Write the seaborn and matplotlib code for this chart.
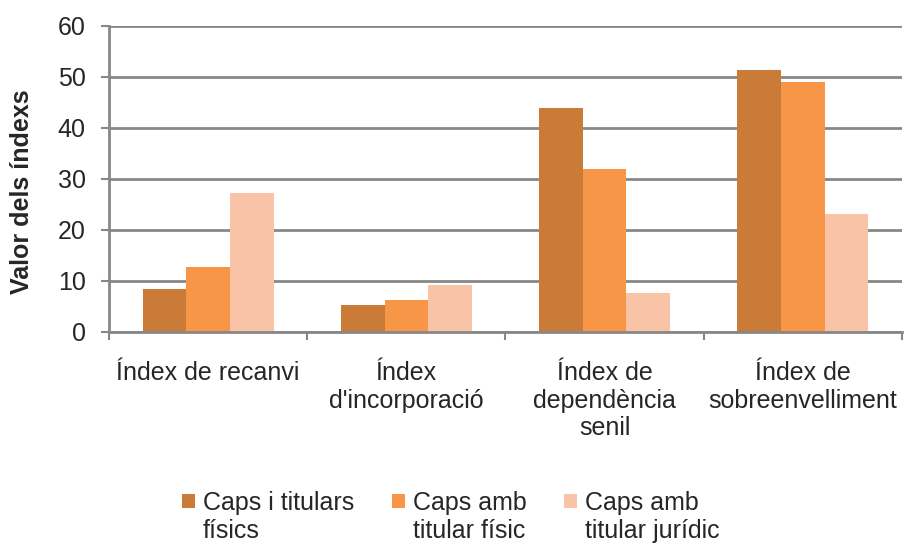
import matplotlib
matplotlib.use("Agg")
import matplotlib.pyplot as plt
import matplotlib.patches as mpatches
from matplotlib.legend_handler import HandlerPatch
import seaborn as sns
import pandas as pd

# values
categories = ["Índex de recanvi", "Índex\nd'incorporació",
              "Índex de\ndependència\nsenil", "Índex de\nsobreenvelliment"]
series = ["Caps i titulars\nfísics", "Caps amb\ntitular físic", "Caps amb\ntitular jurídic"]
caps_titulars_fisics = [8.3, 5.2, 43.9, 51.3]
caps_titular_fisic = [12.6, 6.3, 31.9, 49.0]
caps_titular_juridic = [27.2, 9.1, 7.5, 23.0]
y_ticks = [0, 10, 20, 30, 40, 50, 60]

colors = ["#CB7B38", "#F79646", "#F9C3A7"]
grid_grey = "#878787"

rows = []
for name, vals in zip(series, [caps_titulars_fisics, caps_titular_fisic, caps_titular_juridic]):
    for cat, v in zip(categories, vals):
        rows.append({"cat": cat, "serie": name, "valor": v})
df = pd.DataFrame(rows)

sns.set_style("white")
plt.rcParams['font.family'] = ['Liberation Sans', 'DejaVu Sans']

fig = plt.figure(figsize=(9.08, 5.47), dpi=100)
ax = fig.add_axes([0.120, 0.3936, 0.8734, 0.5594])

sns.barplot(data=df, x="cat", y="valor", hue="serie", order=categories,
            hue_order=series, palette=colors, width=0.66, saturation=1,
            edgecolor="none", ax=ax, legend=True)

ax.set_ylim(0, 60)
ax.set_xlim(-0.5, 3.5)
ax.set_yticks(y_ticks)
ax.yaxis.grid(True, color=grid_grey, linewidth=2)
ax.set_axisbelow(True)

for side in ["top", "right"]:
    ax.spines[side].set_visible(False)
for side in ["left", "bottom"]:
    ax.spines[side].set_color(grid_grey)
    ax.spines[side].set_linewidth(2)

ax.tick_params(axis="y", which="major", length=5.8, width=1.5, color=grid_grey,
               labelsize=18, direction="out", left=True, pad=11)
ax.tick_params(axis="x", which="major", length=0, labelsize=18, pad=21)
ax.set_xticks([-0.5, 0.5, 1.5, 2.5, 3.5], minor=True)
ax.tick_params(axis="x", which="minor", length=5.8, width=1.5, color=grid_grey,
               direction="out", bottom=True)

ax.set_xlabel("")
ax.set_ylabel("Valor dels índexs", fontsize=18, fontweight="bold")
ax.yaxis.set_label_coords(-0.095, 0.458)


# legend markers sit beside the first text line, as in the original
def first_line_patch(legend, orig_handle, xdescent, ydescent, width, height, fontsize):
    return mpatches.Rectangle((-xdescent, -ydescent + 12), width, height)


handles, labels = ax.get_legend_handles_labels()
ax.legend(handles, labels, loc="upper left", bbox_to_anchor=(0.2004, 0.1024),
          bbox_transform=fig.transFigure, ncol=3, frameon=False, fontsize=18,
          handlelength=0.52, handleheight=0.52, handletextpad=0.32,
          columnspacing=1.5, borderpad=0, borderaxespad=0,
          handler_map={mpatches.Rectangle: HandlerPatch(patch_func=first_line_patch)})

fig.savefig("out.png", dpi=100)
